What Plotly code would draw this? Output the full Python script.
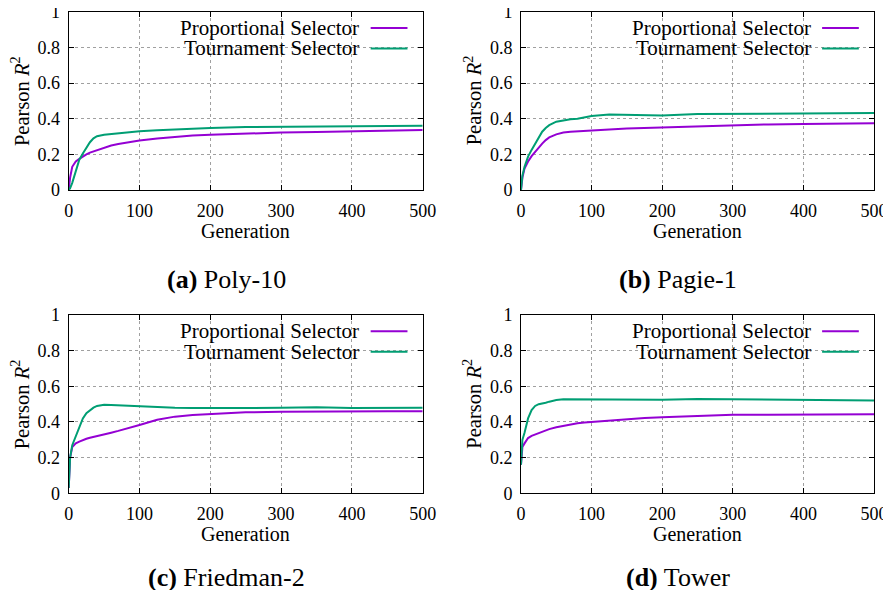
import plotly.graph_objects as go

# ---------------- data ----------------
GEN = [0, 2, 5, 10, 15, 20, 25, 30, 35, 40, 50, 60, 70, 80, 90, 100,
       125, 150, 175, 200, 250, 300, 350, 400, 450, 500]

poly10_prop = [0.0, 0.07, 0.13, 0.16, 0.175, 0.19, 0.20, 0.21, 0.217, 0.224, 0.237, 0.25, 0.258,
               0.265, 0.271, 0.277, 0.289, 0.298, 0.305, 0.31, 0.317, 0.322, 0.325, 0.33, 0.333, 0.336]
poly10_tour = [0.0, 0.01, 0.04, 0.10, 0.17, 0.205, 0.237, 0.268, 0.29, 0.302, 0.31, 0.314, 0.318,
               0.323, 0.327, 0.33, 0.335, 0.34, 0.344, 0.348, 0.353, 0.355, 0.357, 0.357, 0.359, 0.36]

pagie1_prop = [0.0, 0.07, 0.12, 0.16, 0.19, 0.215, 0.24, 0.26, 0.28, 0.295, 0.312, 0.322, 0.327,
               0.33, 0.332, 0.335, 0.34, 0.345, 0.348, 0.351, 0.359, 0.363, 0.368, 0.37, 0.372, 0.374]
pagie1_tour = [0.0, 0.08, 0.13, 0.187, 0.225, 0.26, 0.295, 0.327, 0.348, 0.364, 0.383, 0.392, 0.397,
               0.40, 0.407, 0.415, 0.424, 0.421, 0.417, 0.418, 0.426, 0.426, 0.428, 0.43, 0.43, 0.432]

friedman2_prop = [0.03, 0.2, 0.26, 0.28, 0.29, 0.30, 0.306, 0.312, 0.316, 0.32, 0.33, 0.34, 0.35,
                  0.36, 0.372, 0.383, 0.412, 0.43, 0.439, 0.445, 0.454, 0.458, 0.46, 0.46, 0.46, 0.46]
friedman2_tour = [0.03, 0.2, 0.27, 0.32, 0.374, 0.42, 0.449, 0.467, 0.48, 0.49, 0.497, 0.495, 0.493,
                  0.492, 0.491, 0.49, 0.486, 0.48, 0.478, 0.477, 0.478, 0.48, 0.482, 0.478, 0.477, 0.48]

tower_prop = [0.16, 0.26, 0.28, 0.31, 0.322, 0.33, 0.338, 0.345, 0.353, 0.36, 0.37, 0.378, 0.386,
              0.393, 0.397, 0.40, 0.41, 0.417, 0.422, 0.426, 0.434, 0.44, 0.441, 0.441, 0.443, 0.443]
tower_tour = [0.16, 0.3, 0.34, 0.42, 0.467, 0.49, 0.5, 0.503, 0.508, 0.514, 0.523, 0.527, 0.527,
              0.527, 0.526, 0.525, 0.524, 0.523, 0.524, 0.525, 0.529, 0.527, 0.523, 0.523, 0.521, 0.52]

PANELS = [
    ("(a)", "Poly-10", poly10_prop, poly10_tour),
    ("(b)", "Pagie-1", pagie1_prop, pagie1_tour),
    ("(c)", "Friedman-2", friedman2_prop, friedman2_tour),
    ("(d)", "Tower", tower_prop, tower_tour),
]
SERIES_NAMES = ["Proportional Selector", "Tournament Selector"]
X_TICKS = [0, 100, 200, 300, 400, 500]
Y_TICKS = [0, 0.2, 0.4, 0.6, 0.8, 1]
Y_TICK_TEXT = ["0", "0.2", "0.4", "0.6", "0.8", "1"]

# ---------------- style ----------------
# figure sized so the page (with the browser's 8px body margin) fits the 891x598 window
W, H = 883, 582
OFF = 8  # body margin offset
COLORS = ["#9400D3", "#009E73"]
FONT = "Liberation Serif"


def px_x(v):
    return (v - OFF) / W


def px_y(v):
    return 1 - (v - OFF) / H


X_DOMAINS = [(px_x(68.7), px_x(422.7)), (px_x(521), px_x(874))]
Y_DOMAINS = [(px_y(190), px_y(11.7)), (px_y(493.3), px_y(315))]
CAPTION_X = [px_x(226), px_x(678)]
CAPTION_Y = [px_y(279), px_y(577)]

fig = go.Figure()
annotations = []
shapes = []

for i, (tag, name, prop, tour) in enumerate(PANELS):
    r, c = divmod(i, 2)
    n = i + 1
    xa = "x" if n == 1 else f"x{n}"
    ya = "y" if n == 1 else f"y{n}"
    xdom = xa + " domain"
    ydom = ya + " domain"

    for s, vals in enumerate([prop, tour]):
        fig.add_trace(go.Scatter(x=GEN, y=vals, mode="lines", xaxis=xa, yaxis=ya,
                                 line=dict(color=COLORS[s], width=2),
                                 name=SERIES_NAMES[s], showlegend=False))

    axis_common = dict(showline=True, linecolor="black", linewidth=1, mirror="ticks",
                       ticks="inside", ticklen=5, tickcolor="black", automargin=False,
                       ticklabeloverflow="allow",
                       showgrid=True, gridcolor="#a0a0a0", griddash="dot", gridwidth=1,
                       zeroline=False, tickfont=dict(family=FONT, size=18, color="black"))
    fig.layout[("xaxis" if n == 1 else f"xaxis{n}")] = dict(
        domain=X_DOMAINS[c], anchor=ya, range=[0, 500], tickvals=X_TICKS,
        ticklabelstandoff=4, **axis_common)
    fig.layout[("yaxis" if n == 1 else f"yaxis{n}")] = dict(
        domain=Y_DOMAINS[r], anchor=xa, range=[0, 1], tickvals=Y_TICKS, ticktext=Y_TICK_TEXT,
        ticklabelstandoff=4, **axis_common)

    # legend, gnuplot style: text then sample line
    for s, ly in enumerate([0.909, 0.794]):
        annotations.append(dict(text=SERIES_NAMES[s], xref=xdom, yref=ydom, x=0.826, y=ly,
                                xanchor="right", yanchor="middle", showarrow=False,
                                font=dict(family=FONT, size=21, color="black")))
        shapes.append(dict(type="line", xref=xdom, yref=ydom, x0=0.853, x1=0.957, y0=ly, y1=ly,
                           line=dict(color=COLORS[s], width=2)))

    annotations.append(dict(text="Generation", xref=xdom, yref=ydom, x=0.5, y=0, yshift=-41,
                            xanchor="center", yanchor="middle", showarrow=False,
                            font=dict(family=FONT, size=20, color="black")))
    annotations.append(dict(text="Pearson <i>R</i><sup>2</sup>", xref=xdom, yref=ydom, x=0, y=0.5,
                            xshift=-48.5, xanchor="center", yanchor="middle", textangle=-90,
                            showarrow=False, font=dict(family=FONT, size=20.5, color="black")))
    annotations.append(dict(text=f"<b>{tag}</b> {name}", xref="paper", yref="paper",
                            x=CAPTION_X[c], y=CAPTION_Y[r], xanchor="center", yanchor="middle",
                            showarrow=False, font=dict(family=FONT, size=26, color="black")))

fig.update_layout(width=W, height=H, margin=dict(l=0, r=0, t=0, b=0, autoexpand=False),
                  paper_bgcolor="white", plot_bgcolor="white",
                  annotations=annotations, shapes=shapes, showlegend=False)

fig.write_html("out.html")
